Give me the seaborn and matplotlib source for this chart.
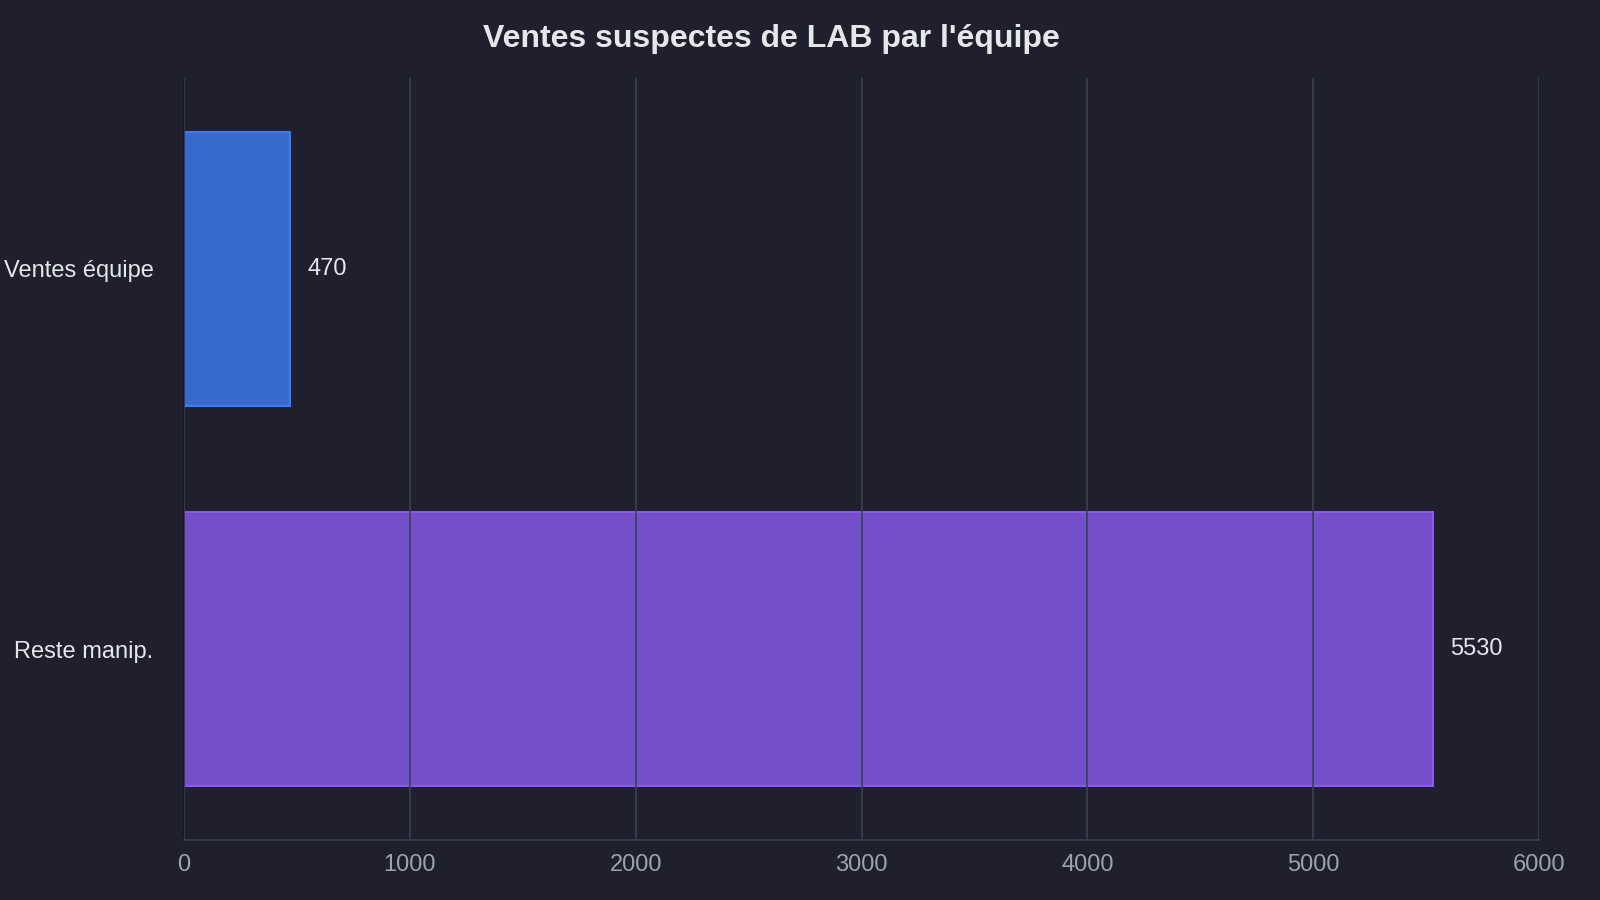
import matplotlib
matplotlib.use("Agg")
import matplotlib.pyplot as plt
import seaborn as sns
import pandas as pd

categories = ["Ventes équipe", "Reste manip."]
values = [470, 5530]
bar_colors = ["#3a6fd8", "#7a52d4"]
edge_colors = ["#3b82f6", "#8b5cf6"]

bg = "#1f1f2e"
sns.set_theme(style="dark")
plt.rcParams['font.family'] = ['Liberation Sans', 'DejaVu Sans']

df = pd.DataFrame({"cat": categories, "val": values})

fig = plt.figure(figsize=(16, 9), dpi=100, facecolor=bg)
ax = fig.add_axes([0.115, 0.067, 0.847, 0.846])
ax.set_facecolor(bg)

sns.barplot(data=df, y="cat", x="val", hue="cat", palette=bar_colors,
            orient="h", width=0.72, ax=ax, legend=False, saturation=1, alpha=0.95)
for patch, ec in zip(ax.patches, edge_colors):
    patch.set_edgecolor(ec)
    patch.set_linewidth(1.5)
    patch.set_zorder(1)

ax.set_xlim(0, 6000)
ax.set_ylim(1.5, -0.5)
ax.set_xticks(range(0, 6001, 1000))
ax.grid(axis="x", color="#374151", linewidth=1.2, zorder=2)
ax.set_axisbelow(False)
for line in ax.get_xgridlines():
    line.set_zorder(2)
ax.grid(axis="y", visible=False)

for i, v in enumerate(values):
    ax.text(v + 75, i, str(v), va="center", ha="left", color="#e5e7eb", fontsize=17)

ax.set_xlabel("")
ax.set_ylabel("")
ax.tick_params(axis="x", colors="#9ca3af", labelsize=17, length=0, pad=10)
ax.tick_params(axis="y", colors="#e5e7eb", labelsize=17, length=0, pad=22)
for lbl in ax.get_xticklabels():
    lbl.set_color("#9ca3af")
for lbl in ax.get_yticklabels():
    lbl.set_color("#e5e7eb")

for s in ["top", "right"]:
    ax.spines[s].set_visible(False)
ax.spines["left"].set_color("#15151f")
ax.spines["left"].set_linewidth(1.2)
ax.spines["bottom"].set_color("#374151")
ax.spines["bottom"].set_linewidth(1.2)

fig.text(0.482, 0.957, "Ventes suspectes de LAB par l'équipe", ha="center", va="center",
         color="#e5e7eb", fontsize=23, fontweight="bold")

fig.savefig("out.png", dpi=100, facecolor=bg)
